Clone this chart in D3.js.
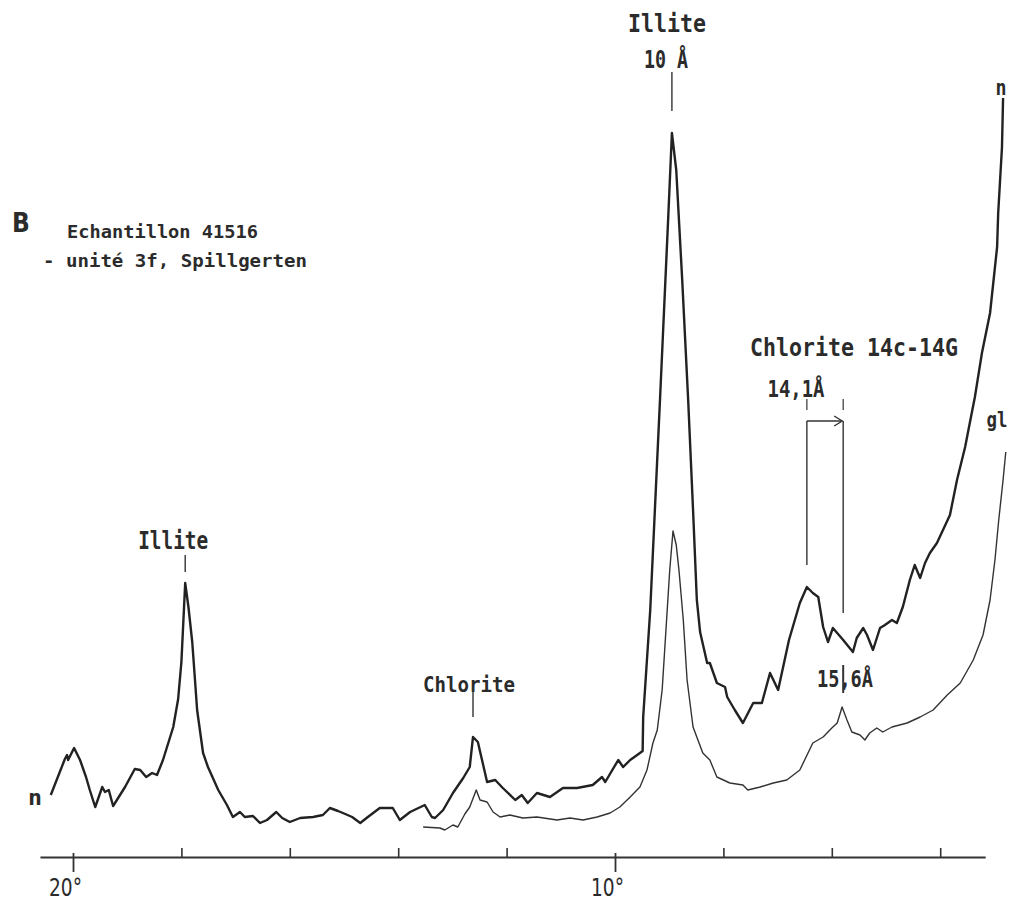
<!DOCTYPE html>
<html>
<head>
<meta charset="utf-8">
<script src="https://cdn.jsdelivr.net/npm/d3@7"></script>
<style>
  body { margin: 0; background: #fff; }
  text { fill: #2b2b2b; }
</style>
</head>
<body>
<div id="chart"></div>
<script>
// XRD scan, sample 41516 - 2-theta (deg) / counts

const nScan = [
  [20.41, 62], [20.15, 98], [20.11, 102], [20.09, 97], [19.98, 109], [19.87, 97],
  [19.76, 80], [19.69, 67], [19.59, 50], [19.46, 70], [19.41, 65], [19.34, 67],
  [19.26, 51], [19.04, 70], [18.86, 88], [18.76, 87], [18.65, 80], [18.54, 84],
  [18.45, 82], [18.34, 97], [18.15, 130], [18.06, 158], [18.00, 195], [17.96, 240],
  [17.93, 274], [17.87, 250], [17.80, 215], [17.74, 170], [17.71, 147], [17.60, 104],
  [17.51, 90], [17.32, 67], [17.16, 52], [17.05, 40],
  [16.92, 45], [16.83, 40], [16.68, 41], [16.55, 34], [16.42, 37], [16.25, 45],
  [16.14, 39], [16.00, 35], [15.81, 39], [15.57, 40], [15.39, 42], [15.26, 49],
  [15.11, 46], [15.02, 44], [14.85, 40], [14.70, 34], [14.56, 40], [14.34, 49],
  [14.10, 49], [13.97, 37], [13.78, 45], [13.51, 52], [13.38, 40], [13.32, 39],
  [13.17, 47], [12.99, 64], [12.80, 79], [12.68, 90], [12.62, 120], [12.53, 115],
  [12.36, 75], [12.21, 77], [12.07, 69], [11.84, 57], [11.72, 62], [11.61, 54],
  [11.44, 64], [11.20, 60], [10.96, 69], [10.70, 69], [10.41, 72], [10.24, 80],
  [10.18, 75], [9.94, 97], [9.85, 90], [9.72, 97], [9.54, 104], [9.49, 106],
  [9.48, 140], [9.35, 247], [9.17, 457], [9.02, 637], [8.95, 724], [8.87, 687],
  [8.76, 577], [8.65, 457], [8.56, 347], [8.49, 257], [8.43, 225], [8.30, 194],
  [8.25, 194], [8.12, 174], [7.97, 170], [7.93, 160], [7.79, 147], [7.64, 134],
  [7.45, 154], [7.29, 154], [7.14, 184], [6.99, 167], [6.79, 217], [6.59, 254],
  [6.46, 270], [6.35, 264], [6.25, 260], [6.16, 230], [6.07, 215], [5.98, 229],
  [5.79, 217], [5.61, 205], [5.54, 219], [5.42, 229], [5.35, 222], [5.24, 207],
  [5.11, 229], [5.02, 232], [4.89, 237], [4.80, 234], [4.69, 250], [4.56, 277],
  [4.47, 292], [4.37, 279], [4.28, 294], [4.19, 304], [4.06, 314], [3.82, 342],
  [3.69, 377], [3.54, 410], [3.49, 424], [3.36, 460], [3.23, 504], [3.08, 544],
  [2.95, 610], [2.93, 644], [2.86, 710], [2.84, 759]
];

const glScan = [
  [13.54, 30], [13.23, 29], [13.14, 27], [12.99, 32], [12.90, 30], [12.77, 43],
  [12.68, 50], [12.56, 67], [12.49, 57], [12.36, 55], [12.25, 45], [12.12, 40],
  [11.94, 42], [11.70, 39], [11.44, 40], [11.07, 37], [10.83, 39], [10.59, 37],
  [10.33, 40], [10.09, 44], [9.91, 50], [9.72, 60], [9.54, 70], [9.41, 87],
  [9.30, 114], [9.22, 127], [9.13, 167], [9.06, 227], [8.99, 287], [8.93, 326],
  [8.87, 312], [8.82, 287], [8.74, 237], [8.67, 177], [8.56, 130], [8.38, 104],
  [8.25, 97], [8.12, 80], [7.88, 74], [7.64, 72], [7.55, 67], [7.32, 70],
  [7.08, 74], [6.83, 77], [6.59, 87], [6.35, 114], [6.16, 120], [6.00, 129],
  [5.90, 134], [5.81, 150], [5.72, 137], [5.63, 125], [5.48, 122], [5.39, 117],
  [5.30, 124], [5.17, 129], [5.06, 125], [4.89, 130], [4.61, 134], [4.37, 140],
  [4.13, 147], [3.87, 162], [3.63, 174], [3.39, 197], [3.21, 222], [3.08, 257],
  [2.99, 297], [2.92, 337], [2.84, 377], [2.79, 405]
];

const minorTicks = [18, 16, 14, 12, 8, 6, 4];
const majorTicks = [20, 10];

// peak markers: text, 2-theta
const illiteLow = { text: "Illite", theta: 17.93 };
const chloriteLow = { text: "Chlorite", theta: 12.62 };
const illite10 = { text: "Illite", sub: "10 Å", theta: 8.95 };
const chlorite14 = { text: "Chlorite 14c-14G", theta: 6.46, shifted: 5.79, a: "14,1Å", b: "15,6Å" };

const width = 1014, height = 902;

const x = d3.scaleLinear().domain([20, 10]).range([73, 615]);
const y = d3.scaleLinear().domain([0, 800]).range([857, 57]);

const svg = d3.select("#chart").append("svg")
  .attr("width", width)
  .attr("height", height)
  .style("font-family", "'DejaVu Sans Mono', monospace");

const line = d3.line()
  .x(d => x(d[0]))
  .y(d => y(d[1]));

// traces
svg.append("path")
  .datum(glScan)
  .attr("fill", "none")
  .attr("stroke", "#333")
  .attr("stroke-width", 1.4)
  .attr("stroke-linejoin", "round")
  .attr("d", line);

svg.append("path")
  .datum(nScan)
  .attr("fill", "none")
  .attr("stroke", "#222")
  .attr("stroke-width", 2.4)
  .attr("stroke-linejoin", "round")
  .attr("d", line);

// axis
const x0 = d3.scaleLinear().domain([20.61, 3.17]).range([x(20.61), x(3.17)]);
const axisG = svg.append("g")
  .attr("transform", "translate(0," + y(0) + ")")
  .call(d3.axisBottom(x0).tickValues(minorTicks).tickSizeInner(-9).tickSizeOuter(0).tickFormat(""));
axisG.select(".domain").attr("stroke", "#333").attr("stroke-width", 2);
axisG.selectAll(".tick line").attr("stroke", "#333").attr("stroke-width", 1.6);

const majorG = svg.append("g")
  .attr("transform", "translate(0," + (y(0) - 4) + ")")
  .call(d3.axisBottom(x0).tickValues(majorTicks).tickSize(19).tickFormat(""));
majorG.select(".domain").remove();
majorG.selectAll(".tick line").attr("stroke", "#333").attr("stroke-width", 1.8);

majorTicks.forEach(t => {
  svg.append("text")
    .attr("x", x(t) + 9)
    .attr("y", 896)
    .attr("text-anchor", "end")
    .attr("textLength", 33)
    .attr("lengthAdjust", "spacingAndGlyphs")
    .style("font-family", "'DejaVu Sans Condensed', 'DejaVu Sans', sans-serif")
    .style("font-size", "24px")
    .text(t + "°");
});

// marker helper
function tick(theta, y1, y2, w) {
  svg.append("line")
    .attr("x1", x(theta)).attr("x2", x(theta))
    .attr("y1", y1).attr("y2", y2)
    .attr("stroke", "#333")
    .attr("stroke-width", w || 1.4);
}

function label(txt, cx, by, len, size, anchor) {
  return svg.append("text")
    .attr("x", cx)
    .attr("y", by)
    .attr("text-anchor", anchor || "middle")
    .attr("textLength", len)
    .attr("lengthAdjust", "spacingAndGlyphs")
    .style("font-size", (size || 24) + "px")
    .style("font-weight", "bold")
    .text(txt);
}

// low-angle illite
label(illiteLow.text, x(illiteLow.theta) - 12, 549, 70, 24);
tick(illiteLow.theta, 555, 572);

// chlorite 002
label(chloriteLow.text, x(chloriteLow.theta) - 4, 692, 92, 22);
tick(chloriteLow.theta, 685, 717);

// illite 10 A
label(illite10.text, x(illite10.theta) - 5, 32, 78, 25);
label(illite10.sub, x(illite10.theta) - 6, 68, 44, 24);
tick(illite10.theta, 72, 111);

// chlorite 14 A shift
label(chlorite14.text, 750, 356, 208, 25, "start");
label(chlorite14.a, 796, 397, 57, 23);
label(chlorite14.b, 845, 687, 56, 23);
tick(chlorite14.theta, 399, 410, 1.2);
tick(chlorite14.shifted, 399, 410, 1.2);
tick(chlorite14.theta, 421, 565);
tick(chlorite14.shifted, 421, 613);
tick(chlorite14.shifted, 665, 693, 2);

svg.append("line")
  .attr("x1", x(chlorite14.theta)).attr("x2", x(chlorite14.shifted) - 1)
  .attr("y1", 421).attr("y2", 421)
  .attr("stroke", "#333").attr("stroke-width", 1.4);
svg.append("path")
  .attr("d", "M" + (x(chlorite14.shifted) - 9) + ",416 L" + (x(chlorite14.shifted) - 1) + ",421 L" + (x(chlorite14.shifted) - 9) + ",426")
  .attr("fill", "none").attr("stroke", "#333").attr("stroke-width", 1.4);

// trace names
label("n", 35, 805, 14, 22);
label("n", 1001, 95, 11, 22);
label("gl", 997, 427, 21, 22);

// panel title
svg.append("text")
  .attr("x", 12).attr("y", 232)
  .style("font-family", "'DejaVu Sans Condensed', 'DejaVu Sans', sans-serif")
  .style("font-size", "26px")
  .style("font-weight", "bold")
  .text("B");

svg.append("text")
  .attr("x", 67).attr("y", 238)
  .attr("textLength", 191).attr("lengthAdjust", "spacingAndGlyphs")
  .style("font-size", "17px").style("font-weight", "bold")
  .text("Echantillon 41516");

svg.append("text")
  .attr("x", 43).attr("y", 267)
  .attr("textLength", 264).attr("lengthAdjust", "spacingAndGlyphs")
  .style("font-size", "17px").style("font-weight", "bold")
  .text("- unité 3f, Spillgerten");
</script>
</body>
</html>
